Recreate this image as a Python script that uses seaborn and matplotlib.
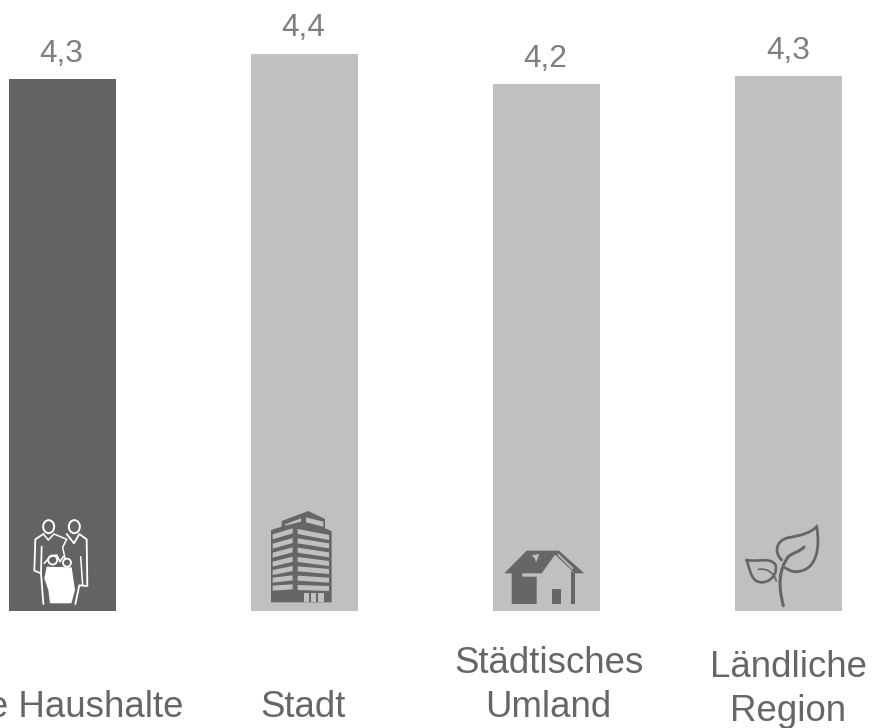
import matplotlib
matplotlib.use("Agg")
import matplotlib.pyplot as plt
from matplotlib.patches import Polygon, Ellipse, PathPatch
from matplotlib.path import Path
import seaborn as sns

sns.set_style("white")
plt.rcParams['font.family'] = ['Liberation Sans', 'DejaVu Sans']

# data
categories = ["Alle Haushalte", "Stadt", "Städtisches\nUmland", "Ländliche\nRegion"]
bar_heights = [4.26, 4.46, 4.22, 4.28]
value_labels = ["4,3", "4,4", "4,2", "4,3"]
bar_colors = ["#636363", "#c0c0c0", "#c0c0c0", "#c0c0c0"]

W, H = 872, 728
DARK = "#666666"
LIGHT = "#c0c0c0"

fig = plt.figure(figsize=(W / 100, H / 100), dpi=100)
ax = fig.add_axes([0, 0, 1, 1])
sns.barplot(x=categories, y=bar_heights, hue=categories, palette=bar_colors,
            width=0.443, legend=False, ax=ax, saturation=1, linewidth=0)
ax.set_xlim(-62.8 / 241.9, (W - 62.8) / 241.9)
ax.set_ylim(-(H - 611) / 125, 611 / 125)
ax.axis("off")

# overlay in pixels for labels and icons
ov = fig.add_axes([0, 0, 1, 1], facecolor="none")
ov.set_xlim(0, W)
ov.set_ylim(H, 0)
ov.axis("off")

# text
value_pos = [(61, 62), (303.5, 36), (545, 67), (787.7, 59)]
for s, (x, y) in zip(value_labels, value_pos):
    ov.text(x, y, s, ha="center", va="baseline", fontsize=22.8, color="#7f7f7f")

# baselines of the last line
cat_pos = [(65.5, 717), (302.5, 717), (548.5, 717), (788, 721)]
for s, (x, y) in zip(categories, cat_pos):
    lines = s.split("\n")
    for i, part in enumerate(reversed(lines)):
        ov.text(x, y - 44 * i, part, ha="center", va="baseline", fontsize=26.4,
                color="#666666", clip_on=False)


def zoomed(pts, x0, y0):
    return [(x0 + a / 3, y0 + b / 3) for a, b in pts]


def poly(pts, x0, y0, color):
    ov.add_patch(Polygon(zoomed(pts, x0, y0), closed=True, fc=color, ec="none"))


def curve(pts, x0, y0, color, lw):
    p = zoomed(pts, x0, y0)
    codes = [Path.MOVETO] + [Path.CURVE4] * (len(p) - 1)
    ov.add_patch(PathPatch(Path(p, codes), fc="none", ec=color, lw=lw, capstyle="round"))


def line(pts, x0, y0, color, lw):
    p = zoomed(pts, x0, y0)
    ov.plot([a for a, b in p], [b for a, b in p], color=color, lw=lw, solid_joinstyle="round")


# family icon
x0, y0 = 10, 510
for cx, cy in [(116, 50), (193, 50)]:
    ov.add_patch(Ellipse((x0 + cx / 3, y0 + cy / 3), 11, 13, fc="none", ec="white", lw=1.4))
for cx, cy, w in [(128, 150, 9), (171, 158, 8)]:
    ov.add_patch(Ellipse((x0 + cx / 3, y0 + cy / 3), w, w, fc="none", ec="white", lw=1.3))
line([(100, 72), (76, 88), (73, 182), (93, 190)], x0, y0, "white", 1.3)
line([(95, 110), (93, 190), (100, 282)], x0, y0, "white", 1.3)
line([(100, 72), (115, 90), (132, 72), (170, 88)], x0, y0, "white", 1.1)
line([(170, 72), (192, 100), (208, 72), (230, 88), (232, 228), (208, 226), (196, 282)], x0, y0, "white", 1.3)
line([(170, 88), (158, 112), (165, 145)], x0, y0, "white", 1.1)
line([(212, 140), (218, 226)], x0, y0, "white", 1.1)
line([(103, 160), (120, 140), (140, 135), (150, 155), (160, 140)], x0, y0, "white", 1.2)
poly([(110, 170), (185, 172), (195, 240), (184, 280), (120, 280), (115, 240), (103, 205)], x0, y0, "white")

# building icon
x0, y0 = 255, 505
poly([(48, 75), (80, 65), (80, 48), (160, 18), (210, 42), (210, 70), (230, 78), (230, 292), (48, 292)], x0, y0, DARK)
poly([(153, 37), (205, 50), (205, 65), (153, 52)], x0, y0, LIGHT)
poly([(90, 58), (138, 40), (138, 50), (90, 62)], x0, y0, LIGHT)
left_rows = [(88, 70), (116, 99), (143, 127), (170, 155), (195, 183), (218, 211), (242, 238)]
right_rows = [(72, 90), (100, 115), (128, 142), (156, 168), (184, 192), (212, 218), (240, 243)]
for a, b in left_rows:
    poly([(53, a), (113, b), (113, b + 15), (53, a + 15)], x0, y0, LIGHT)
for a, b in right_rows:
    poly([(128, a), (222, b), (222, b + 15), (128, a + 15)], x0, y0, LIGHT)
for a, b in [(147, 162), (167, 183), (190, 207)]:
    poly([(a, 265), (b, 265), (b, 292), (a, 292)], x0, y0, LIGHT)

# house icon
x0, y0 = 495, 530
poly([(28, 130), (95, 62), (192, 62), (268, 130), (240, 130), (180, 74), (140, 130), (82, 130),
      (82, 140), (125, 140), (125, 222), (50, 222), (50, 130)], x0, y0, DARK)
poly([(228, 122), (240, 130), (240, 222), (228, 222)], x0, y0, DARK)
poly([(172, 178), (197, 178), (197, 222), (172, 222)], x0, y0, DARK)
poly([(110, 76), (133, 72), (123, 98), (120, 86)], x0, y0, LIGHT)
line([(190, 74), (232, 115)], x0, y0, LIGHT, 1.2)

# leaf icon
x0, y0 = 735, 515
curve([(140, 135), (115, 110), (125, 75), (160, 68), (195, 62), (225, 55), (245, 35),
       (255, 90), (250, 170), (180, 170), (170, 170), (160, 165), (150, 158)], x0, y0, DARK, 2.0)
curve([(145, 272), (130, 215), (130, 165), (160, 125), (175, 112), (195, 110), (207, 96)], x0, y0, DARK, 2.2)
curve([(35, 135), (70, 142), (105, 125), (122, 150), (130, 190), (85, 215), (60, 195),
       (45, 180), (42, 155), (35, 135)], x0, y0, DARK, 1.9)
curve([(70, 163), (95, 160), (115, 170), (124, 198)], x0, y0, DARK, 1.2)

plt.savefig("out.png", dpi=100)
